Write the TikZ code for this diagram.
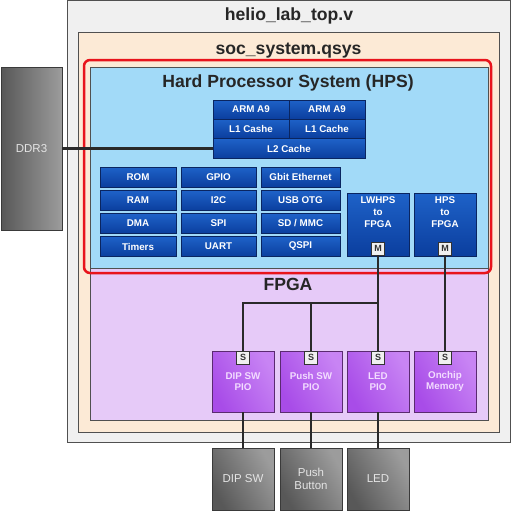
\documentclass[tikz,border=0pt]{standalone}
\usepackage{fontspec}
\setmainfont{Liberation Sans}
\definecolor{outerfill}{HTML}{F0F0F0}
\definecolor{socfill}{HTML}{FCEAD6}
\definecolor{hpsfill}{HTML}{A2DAF8}
\definecolor{fpgafill}{HTML}{E6CAF8}
\definecolor{edgegray}{HTML}{505050}
\definecolor{blueTop}{HTML}{1E62C8}
\definecolor{blueBot}{HTML}{0B3E9E}
\definecolor{blueEdge}{HTML}{0A2560}
\definecolor{purpA}{HTML}{A84CE8}
\definecolor{purpB}{HTML}{C884F4}
\definecolor{purpEdge}{HTML}{5A2A70}
\definecolor{purpText}{HTML}{F3DCFF}
\definecolor{grayA}{HTML}{585858}
\definecolor{grayB}{HTML}{9C9C9C}
\definecolor{grayEdge}{HTML}{3A3A3A}
\definecolor{grayText}{HTML}{E4E4E4}
\definecolor{wirecol}{HTML}{2A2A2A}
\definecolor{hpsred}{HTML}{E8141C}
\begin{document}
\begin{tikzpicture}[x=1pt,y=-1pt,
  container/.style={draw=edgegray, line width=1pt, inner sep=0pt},
  title/.style={font=\bfseries\fontsize{17.6}{20}\selectfont, text=black!85, anchor=base, inner sep=0pt},
  blk/.style={draw=blueEdge, line width=0.7pt, top color=blueTop, bottom color=blueBot, text=white,
    font=\bfseries\fontsize{9.8}{11}\selectfont, inner sep=0pt, minimum height=19pt},
  bridge/.style={draw=blueEdge, line width=0.7pt, top color=blueTop, bottom color=blueBot,
    inner sep=0pt, minimum width=62pt, minimum height=63pt},
  bridgetxt/.style={text=white, font=\bfseries\fontsize{9.8}{12}\selectfont, align=center, inner sep=0pt, anchor=north},
  pio/.style={draw=purpEdge, line width=0.8pt, left color=purpA, right color=purpB, shading angle=120,
    text=purpText, font=\bfseries\fontsize{9.8}{11.5}\selectfont, align=center, inner sep=0pt,
    minimum width=62pt, minimum height=61pt},
  ext/.style={draw=grayEdge, line width=0.8pt, left color=grayA, right color=grayB, shading angle=120,
    text=grayText, font=\fontsize{11.5}{13}\selectfont, align=center, inner sep=0pt,
    minimum width=62pt, minimum height=62pt},
  badge/.style={draw=black!80, line width=0.7pt, fill=white!94!black, minimum width=12.5pt, minimum height=13pt,
    inner sep=0pt, font=\bfseries\fontsize{9}{9}\selectfont, text=black!80},
  wire/.style={draw=wirecol, line width=2.2pt}
]
\useasboundingbox (0,0) rectangle (516,511);

% containers
\node[container, fill=outerfill, minimum width=443pt, minimum height=442pt] (top) at (288.5,221.5) {};
\node[title] (toptitle) at (289,21) {helio\_lab\_top.v};
\node[container, fill=socfill, minimum width=421pt, minimum height=399pt] (soc) at (288.5,232.5) {};
\node[title] (soctitle) at (288.5,55) {soc\_system.qsys};
\node[container, fill=hpsfill, minimum width=398pt, minimum height=201pt] (hps) at (289,167.5) {};
\node[container, fill=fpgafill, minimum width=398pt, minimum height=152pt] (fpga) at (289,344) {};
\node[title] (hpstitle) at (288,87) {Hard Processor System (HPS)};
\node[title] (fpgatitle) at (288,290) {FPGA};
\draw[hpsred, line width=2.5pt, rounded corners=6pt] (84,60) rectangle (491,273);

% DDR3
\node[ext, left color=grayA, right color=grayB, shading angle=90, minimum width=61pt, minimum height=163pt] (ddr) at (31.5,148.5) {DDR3};

% CPU
\node[blk, minimum width=76pt] (a9a) at (251,109.5) {ARM A9};
\node[blk, minimum width=76pt] (a9b) at (327,109.5) {ARM A9};
\node[blk, minimum width=76pt] (l1a) at (251,128.5) {L1 Cashe};
\node[blk, minimum width=76pt] (l1b) at (327,128.5) {L1 Cache};
\node[blk, minimum width=152pt, minimum height=20pt] (l2) at (289,148.5) {L2 Cache};

% peripherals
\node[blk, minimum width=76pt, minimum height=20pt] (rom) at (138,177) {ROM};
\node[blk, minimum width=76pt, minimum height=20pt] (ram) at (138,200.5) {RAM};
\node[blk, minimum width=76pt, minimum height=20pt] (dma) at (138,223.5) {DMA};
\node[blk, minimum width=76pt, minimum height=20pt] (tim) at (138,246.5) {Timers};
\node[blk, minimum width=75pt, minimum height=20pt] (gpio) at (218.5,177) {GPIO};
\node[blk, minimum width=75pt, minimum height=20pt] (i2c) at (218.5,200.5) {I2C};
\node[blk, minimum width=75pt, minimum height=20pt] (spi) at (218.5,223.5) {SPI};
\node[blk, minimum width=75pt, minimum height=20pt] (uart) at (218.5,246.5) {UART};
\node[blk, minimum width=79pt, minimum height=20pt] (eth) at (300.5,177) {Gbit Ethernet};
\node[blk, minimum width=79pt, minimum height=20pt] (usb) at (300.5,200.5) {USB OTG};
\node[blk, minimum width=79pt, minimum height=20pt] (sd) at (300.5,223.5) {SD / MMC};
\node[blk, minimum width=79pt, minimum height=20pt] (qspi) at (300.5,246.5) {QSPI};

% bridges
\node[bridge] (lw) at (378,224.5) {};
\node[bridgetxt] (lwt) at (378,196.5) {LWHPS\\to\\FPGA};
\node[bridge] (h2f) at (445,224.5) {};
\node[bridgetxt] (h2ft) at (445,196.5) {HPS\\to\\FPGA};
\node[badge] (m1) at (378,248.5) {M};
\node[badge] (m2) at (445,248.5) {M};

% FPGA components
\node[pio] (dippio) at (243,381.5) {DIP SW\\PIO};
\node[pio] (pushpio) at (311,381.5) {Push SW\\PIO};
\node[pio] (ledpio) at (378,381.5) {LED\\PIO};
\node[pio] (mem) at (445,381.5) {Onchip\\Memory};
\node[badge] (s1) at (243,357.5) {S};
\node[badge] (s2) at (311,357.5) {S};
\node[badge] (s3) at (378,357.5) {S};
\node[badge] (s4) at (445,357.5) {S};

% external
\node[ext] (dipsw) at (243,479) {DIP SW};
\node[ext] (pushb) at (311,479) {Push\\Button};
\node[ext] (led) at (378,479) {LED};

% wires
\coordinate (bus) at (378,303);
\draw[wire] (ddr.east) -- (l2.west);
\draw[wire] (m1.south) -- (s3.north);
\draw[wire] (s1.north) |- (bus);
\draw[wire] (s2.north) -- (s2.north |- bus);
\draw[wire] (m2.south) -- (s4.north);
\draw[wire] (dippio.south) -- (dipsw.north);
\draw[wire] (pushpio.south) -- (pushb.north);
\draw[wire] (ledpio.south) -- (led.north);
\end{tikzpicture}
\end{document}
